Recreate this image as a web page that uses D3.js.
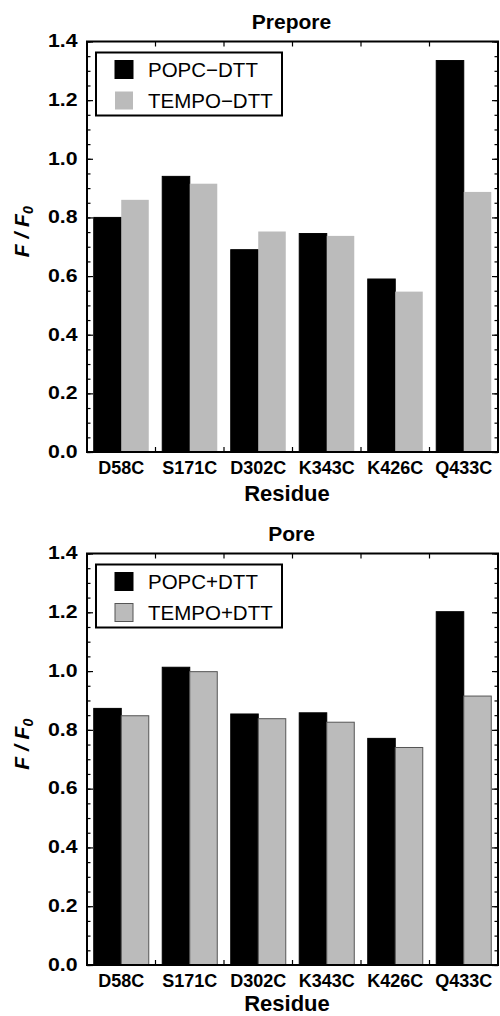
<!DOCTYPE html>
<html>
<head>
<meta charset="utf-8">
<script src="https://cdn.jsdelivr.net/npm/d3@7"></script>
<style>
  body { margin: 0; background: #fff; }
  svg { display: block; font-family: "Liberation Sans", Arial, Helvetica, sans-serif; }
</style>
</head>
<body>
<div class="main"></div>
<script>
const residues = ["D58C", "S171C", "D302C", "K343C", "K426C", "Q433C"];
const yTicks = [0, 0.2, 0.4, 0.6, 0.8, 1.0, 1.2, 1.4];

// Prepore panel
const preporeSeries = ["POPC\u2212DTT", "TEMPO\u2212DTT"];
const preporePOPC = [0.80, 0.94, 0.69, 0.745, 0.59, 1.335];
const preporeTEMPO = [0.86, 0.915, 0.752, 0.737, 0.547, 0.887];

// Pore panel
const poreSeries = ["POPC+DTT", "TEMPO+DTT"];
const porePOPC = [0.873, 1.013, 0.854, 0.858, 0.771, 1.202];
const poreTEMPO = [0.848, 0.998, 0.838, 0.826, 0.740, 0.915];

const W = 500, H = 1016;
const left = 87, right = 498;
const colors = ["#000000", "#bbbbbb"];

const svg = d3.select(".main").append("svg")
    .attr("width", W)
    .attr("height", H);

const x = d3.scaleBand()
    .domain(residues)
    .range([left, right])
    .padding(0);

const makePanel = function (opts) {
    const { title, series, values, top, bottom, outlined, resY } = opts;
    const y = d3.scaleLinear().domain([0, 1.4]).range([bottom, top]);
    const xs = d3.scaleBand()
        .domain(series)
        .range([0, x.bandwidth()])
        .paddingInner(0)
        .paddingOuter(0.245);

    const g = svg.append("g");

    // bars
    const groups = g.selectAll("g.grp")
        .data(residues)
        .enter().append("g")
        .attr("class", "grp")
        .attr("transform", d => "translate(" + x(d) + ",0)");

    groups.selectAll("rect")
        .data((d, i) => series.map((s, j) => ({ s: s, j: j, v: values[j][i] })))
        .enter().append("rect")
        .attr("x", d => xs(d.s))
        .attr("width", xs.bandwidth())
        .attr("y", d => y(d.v))
        .attr("height", d => y(0) - y(d.v))
        .attr("fill", d => colors[d.j])
        .attr("stroke", d => d.j === 1 ? (outlined ? "#555" : "none") : "#000")
        .attr("stroke-width", 1);

    // minor/major ticks left & right (inward)
    const minor = d3.range(0, 1.4001, 0.05);
    g.append("g")
        .attr("transform", "translate(" + left + ",0)")
        .call(d3.axisLeft(y).tickValues(minor).tickSize(-3.5).tickFormat(""))
        .call(a => a.select(".domain").remove());
    g.append("g")
        .attr("transform", "translate(" + right + ",0)")
        .call(d3.axisRight(y).tickValues(minor).tickSize(-3.5).tickFormat(""))
        .call(a => a.select(".domain").remove());
    g.append("g")
        .attr("transform", "translate(" + left + ",0)")
        .call(d3.axisLeft(y).tickValues(yTicks).tickSize(-6).tickPadding(10).tickFormat(d3.format(".1f")))
        .call(a => a.select(".domain").remove())
        .call(a => a.selectAll("text")
            .attr("font-size", 19).attr("font-weight", "bold").attr("fill", "#000")
            .attr("dy", "0.28em")
            .attr("x", -8.5)
            .attr("transform", "scale(1.12,1)"));
    g.append("g")
        .attr("transform", "translate(" + right + ",0)")
        .call(d3.axisRight(y).tickValues(yTicks).tickSize(-6).tickFormat(""))
        .call(a => a.select(".domain").remove());
    g.selectAll(".tick line").attr("stroke", "#000").attr("stroke-width", 1.2);

    // x ticks at category boundaries (bottom & top, inward)
    const bounds = residues.slice(1).map(d => x(d));
    g.selectAll("line.xb")
        .data(bounds).enter().append("line")
        .attr("x1", d => d).attr("x2", d => d)
        .attr("y1", bottom).attr("y2", bottom - 5)
        .attr("stroke", "#000").attr("stroke-width", 1.2);
    g.selectAll("line.xt")
        .data(bounds).enter().append("line")
        .attr("x1", d => d).attr("x2", d => d)
        .attr("y1", top).attr("y2", top + 5)
        .attr("stroke", "#000").attr("stroke-width", 1.2);

    // x labels
    g.selectAll("text.xl")
        .data(residues).enter().append("text")
        .attr("x", d => x(d) + x.bandwidth() / 2)
        .attr("y", bottom + 22)
        .attr("text-anchor", "middle")
        .attr("font-size", 18)
        .attr("font-weight", "bold")
        .text(d => d);

    // frame
    g.append("rect")
        .attr("x", left).attr("y", top)
        .attr("width", right - left).attr("height", bottom - top)
        .attr("fill", "none").attr("stroke", "#000").attr("stroke-width", 2);

    // title
    g.append("text")
        .attr("x", (left + right) / 2 - 1)
        .attr("y", top - 13)
        .attr("text-anchor", "middle")
        .attr("font-size", 21)
        .attr("font-weight", "bold")
        .text(title);

    // x axis title
    g.append("text")
        .attr("x", 287)
        .attr("y", resY)
        .attr("text-anchor", "middle")
        .attr("font-size", 22)
        .attr("font-weight", "bold")
        .text("Residue");

    // y axis title
    const yl = g.append("text")
        .attr("transform", "translate(29," + ((top + bottom) / 2 - 15) + ") rotate(-90)")
        .attr("text-anchor", "middle")
        .attr("font-size", 21)
        .attr("font-weight", "bold")
        .attr("font-style", "italic");
    yl.append("tspan").text("F / F");
    yl.append("tspan").attr("font-size", 14).attr("dy", 4).text("0");

    // legend
    const lg = g.append("g").attr("transform", "translate(96," + (top + 11) + ")");
    lg.append("rect")
        .attr("width", 186).attr("height", 63)
        .attr("fill", "#fff").attr("stroke", "#000").attr("stroke-width", 2);
    const items = lg.selectAll("g.it")
        .data(series).enter().append("g")
        .attr("transform", (d, i) => "translate(19," + (8 + i * 31) + ")");
    items.append("rect")
        .attr("width", 18).attr("height", 18)
        .attr("fill", (d, i) => colors[i])
        .attr("stroke", (d, i) => i === 1 ? (outlined ? "#555" : "none") : "#000");
    items.append("text")
        .attr("x", 33).attr("y", 16.5)
        .attr("font-size", 20.5)
        .text(d => d);
};

makePanel({
    title: "Prepore",
    series: preporeSeries,
    values: [preporePOPC, preporeTEMPO],
    top: 41.5,
    bottom: 452,
    outlined: false,
    resY: 501
});

makePanel({
    title: "Pore",
    series: poreSeries,
    values: [porePOPC, poreTEMPO],
    top: 553.5,
    bottom: 965,
    outlined: true,
    resY: 1011
});
</script>
</body>
</html>
